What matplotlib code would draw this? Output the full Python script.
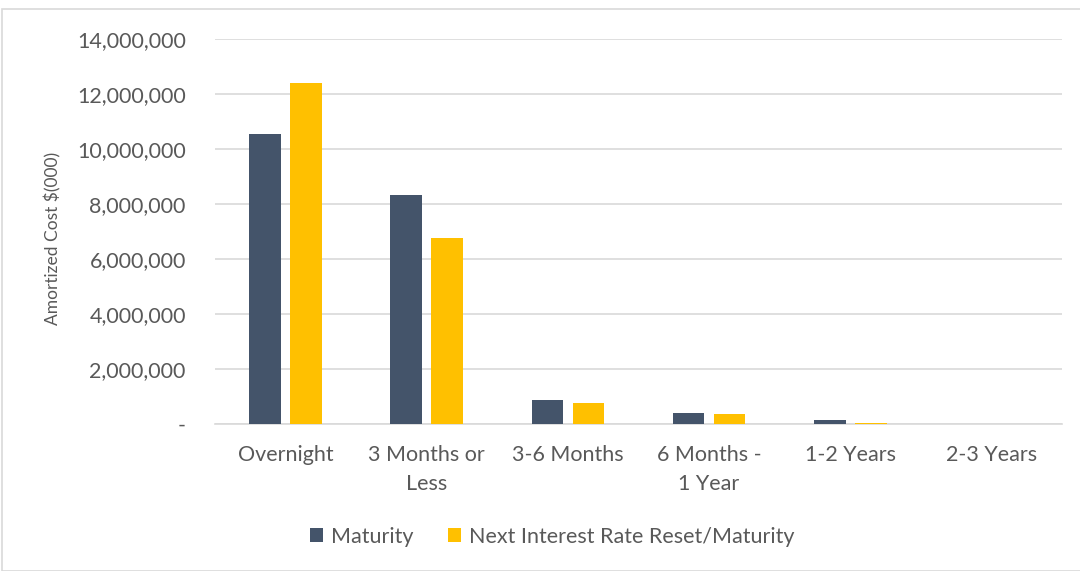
import matplotlib
matplotlib.use("Agg")
import matplotlib.pyplot as plt
from matplotlib.patches import Rectangle
import numpy as np

categories = ["Overnight", "3 Months or\nLess", "3-6 Months", "6 Months -\n1 Year", "1-2 Years", "2-3 Years"]
maturity = [10560000, 8330000, 890000, 390000, 160000, 0]
next_reset = [12390000, 6760000, 780000, 370000, 20000, 0]
yticks = [0, 2000000, 4000000, 6000000, 8000000, 10000000, 12000000, 14000000]
ytick_labels = ["-", "2,000,000", "4,000,000", "6,000,000", "8,000,000", "10,000,000", "12,000,000", "14,000,000"]

plt.rcParams['font.family'] = ['Lato', 'DejaVu Sans']
txt = "#595959"

fig = plt.figure(figsize=(10.8, 5.71), dpi=100)
ax = fig.add_axes([215/1080, 1 - 424/571, (1062-215)/1080, (424-39)/571])

x = np.arange(len(categories))
w = 0.225
ax.bar(x - 0.145, maturity, w, color="#44546A", label="Maturity", zorder=3)
ax.bar(x + 0.145, next_reset, w, color="#FFC000", label="Next Interest Rate Reset/Maturity", zorder=3)

ax.set_xlim(-0.5, len(categories) - 0.5)
ax.set_ylim(0, 14000000)
ax.set_yticks(yticks)
ax.set_yticklabels(ytick_labels)
ax.set_xticks(x)
ax.set_xticklabels(categories)
ax.yaxis.grid(True, color="#D9D9D9", linewidth=1.2, zorder=0)
ax.set_axisbelow(True)
for s in ["top", "right", "left"]:
    ax.spines[s].set_visible(False)
ax.spines["bottom"].set_color("#D9D9D9")
ax.spines["bottom"].set_linewidth(1.2)
ax.tick_params(axis="both", length=0, colors=txt, labelsize=15.5)
ax.tick_params(axis="y", pad=21)
ax.tick_params(axis="x", pad=15)
for lab in ax.get_xticklabels():
    lab.set_linespacing(1.6)
ax.set_ylabel("Amortized Cost $(000)", color=txt, fontsize=12.5)
ax.yaxis.set_label_coords(-0.181, 0.483)

leg = fig.legend(loc="center", bbox_to_anchor=(552/1080, 1 - 537/571), ncol=2, frameon=False,
                 fontsize=15.5, handlelength=0.62, handleheight=0.62, columnspacing=1.6, handletextpad=0.35)
for t in leg.get_texts():
    t.set_color(txt)

fig.patches.append(Rectangle((2/1080, 0), 1.2, 1 - 9/571, transform=fig.transFigure,
                             fill=False, edgecolor="#D9D9D9", linewidth=1.2))

fig.savefig("out.png", dpi=100)
